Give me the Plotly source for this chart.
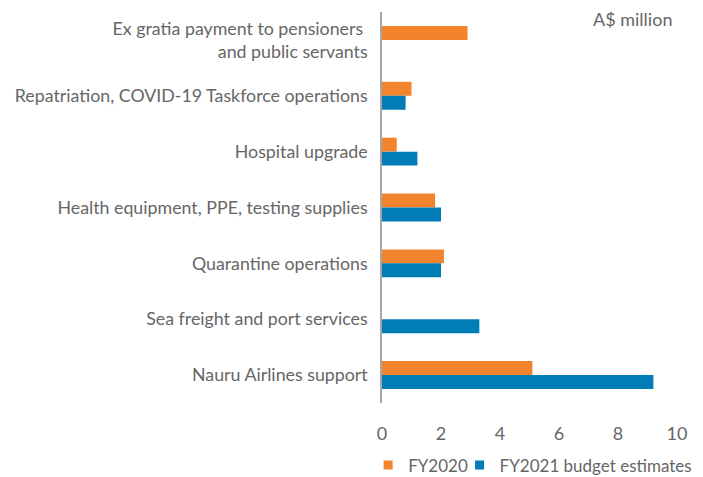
import plotly.graph_objects as go

categories = [
    "Ex gratia payment to pensioners <br>and public servants",
    "Repatriation, COVID-19 Taskforce operations",
    "Hospital upgrade",
    "Health equipment, PPE, testing supplies",
    "Quarantine operations",
    "Sea freight and port services",
    "Nauru Airlines support",
]
fy2020 = [2.9, 1.0, 0.5, 1.8, 2.1, None, 5.1]
fy2021 = [None, 0.8, 1.2, 2.0, 2.0, 3.3, 9.2]
x_ticks = [0, 2, 4, 6, 8, 10]

ORANGE = "#F2842E"
BLUE = "#007DB7"
GREY = "#666666"
FONT = "Lato"

fig = go.Figure()
fig.add_trace(go.Bar(y=categories, x=fy2020, orientation="h", name="FY2020",
                     marker=dict(color=ORANGE, line=dict(width=0)), showlegend=False))
fig.add_trace(go.Bar(y=categories, x=fy2021, orientation="h", name="FY2021 budget estimates",
                     marker=dict(color=BLUE, line=dict(width=0)), showlegend=False))
# legend-only entries with small square symbols
fig.add_trace(go.Scatter(x=[None], y=[None], mode="markers", name="FY2020",
                         marker=dict(symbol="square", size=9, color=ORANGE),
                         legend="legend"))
fig.add_trace(go.Scatter(x=[None], y=[None], mode="markers", name="FY2021 budget estimates",
                         marker=dict(symbol="square", size=9, color=BLUE),
                         legend="legend2"))

leg_common = dict(orientation="h", xanchor="left", yanchor="middle",
                  font=dict(size=17, color=GREY), itemwidth=30,
                  bgcolor="rgba(0,0,0,0)", borderwidth=0)
fig.update_layout(
    width=695, height=469,
    margin=dict(l=374, r=26, t=3.5, b=73.5, autoexpand=False),
    paper_bgcolor="white", plot_bgcolor="white",
    barmode="group", bargap=0.5, bargroupgap=0,
    font=dict(family=FONT, color=GREY, size=18),
    showlegend=True,
    legend=dict(x=-0.047, y=-0.16, **leg_common),
    legend2=dict(x=0.263, y=-0.16, **leg_common),
    annotations=[dict(text="A$ million", xref="paper", yref="paper", x=0.99, y=1.015,
                      xanchor="right", yanchor="top", showarrow=False,
                      font=dict(size=18, color=GREY))],
)
fig.update_xaxes(range=[0, 10], tickvals=x_ticks, showgrid=False, zeroline=False,
                 showline=False, ticks="", ticklabelstandoff=18, automargin=False,
                 tickfont=dict(size=18, color=GREY))
fig.update_yaxes(categoryorder="array", categoryarray=categories, autorange="reversed",
                 showgrid=False, zeroline=False, showline=True, linecolor="#A6A6A6",
                 linewidth=1.5, ticks="", ticklabelstandoff=9, automargin=False,
                 tickfont=dict(size=17.8, color=GREY))

fig.write_html("out.html")
